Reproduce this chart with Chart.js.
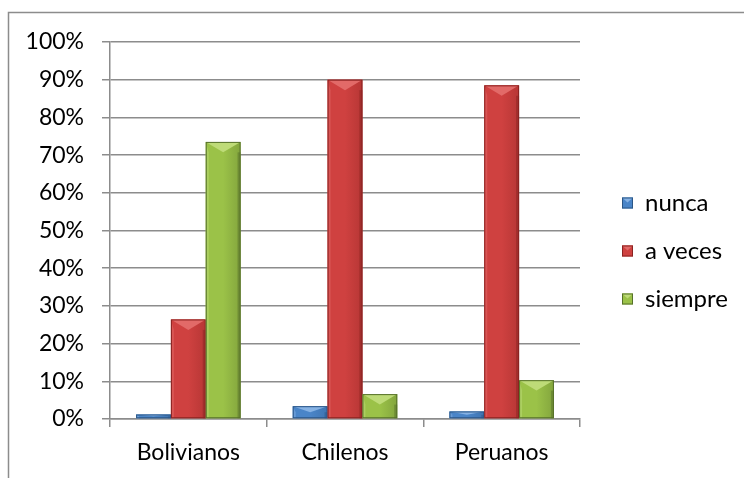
<!DOCTYPE html>
<html>
<head>
<meta charset="utf-8">
<script src="https://cdn.jsdelivr.net/npm/chart.js@4/dist/chart.umd.min.js"></script>
<style>
  html, body { margin: 0; padding: 0; background: #fff; }
  #wrap { width: 744px; height: 478px; position: relative; }
</style>
</head>
<body>
<div id="wrap"><canvas id="chart"></canvas></div>
<script>
const categories = ['Bolivianos', 'Chilenos', 'Peruanos']
const nunca = [1.2, 3.4, 2.0]
const aVeces = [26.4, 90.0, 88.5]
const siempre = [73.5, 6.6, 10.3]

// body, highlight, dark edge
const palette = [
    ['#4a85c8', '#86b2e4', '#2b5686'],
    ['#cf4140', '#e26a68', '#8a2321'],
    ['#9bc248', '#bedb78', '#56702a']
]

const FONT = 'Lato, "Open Sans", sans-serif'

const frame = {
    id: 'frame',
    beforeDraw(chart) {
        const ctx = chart.ctx
        ctx.save()
        ctx.fillStyle = '#fff'
        ctx.fillRect(0, 0, chart.width, chart.height)
        ctx.strokeStyle = '#8c8c8c'
        ctx.lineWidth = 1.5
        ctx.strokeRect(8.5, 12.5, chart.width + 10, chart.height + 10)
        ctx.restore()
    }
}

// bevel look on top of each bar
const bevel = {
    id: 'bevel',
    afterDatasetsDraw(chart) {
        const ctx = chart.ctx
        chart.data.datasets.forEach((ds, di) => {
            const meta = chart.getDatasetMeta(di)
            const col = palette[di]
            meta.data.forEach(bar => {
                const l = bar.x - bar.width / 2
                const r = bar.x + bar.width / 2
                const t = bar.y
                const b = bar.base
                const h = b - t
                const d = Math.min(bar.width * 0.3, h / 2)
                ctx.save()
                const g = ctx.createLinearGradient(l, 0, r, 0)
                g.addColorStop(0, col[0])
                g.addColorStop(0.5, col[0])
                g.addColorStop(1, col[2])
                ctx.globalAlpha = 0.35
                ctx.fillStyle = g
                ctx.fillRect(l, t, r - l, h)
                ctx.globalAlpha = 1
                ctx.fillStyle = col[1]
                ctx.beginPath()
                ctx.moveTo(l, t)
                ctx.lineTo(r, t)
                ctx.lineTo(bar.x, t + d)
                ctx.closePath()
                ctx.fill()
                ctx.globalAlpha = 0.5
                ctx.beginPath()
                ctx.moveTo(l, t)
                ctx.lineTo(l + 3, t + d)
                ctx.lineTo(l + 3, b)
                ctx.lineTo(l, b)
                ctx.closePath()
                ctx.fill()
                ctx.globalAlpha = 1
                ctx.fillStyle = col[2]
                ctx.globalAlpha = 0.5
                ctx.fillRect(r - 3, t + d, 3, h - d)
                ctx.globalAlpha = 1
                ctx.strokeStyle = col[2]
                ctx.lineWidth = 1
                ctx.strokeRect(l + 0.5, t + 0.5, r - l - 1, h - 1)
                ctx.restore()
            })
        })
    }
}

const sideLegend = {
    id: 'sideLegend',
    afterDraw(chart) {
        const ctx = chart.ctx
        const x = chart.chartArea.right + 42
        const yMid = (chart.chartArea.top + chart.chartArea.bottom) / 2 + 20
        ctx.save()
        ctx.font = '24px ' + FONT
        ctx.textBaseline = 'middle'
        chart.data.datasets.forEach((ds, i) => {
            const y = yMid + (i - 1) * 48
            const col = palette[i]
            ctx.fillStyle = col[0]
            ctx.fillRect(x, y - 5, 11, 11)
            ctx.fillStyle = col[1]
            ctx.beginPath()
            ctx.moveTo(x, y - 5)
            ctx.lineTo(x + 11, y - 5)
            ctx.lineTo(x + 5.5, y)
            ctx.closePath()
            ctx.fill()
            ctx.strokeStyle = col[2]
            ctx.strokeRect(x + 0.5, y - 4.5, 10, 10)
            ctx.fillStyle = '#000'
            ctx.fillText(ds.label, x + 23, y + 1)
        })
        ctx.restore()
    }
}

new Chart(document.getElementById('chart'), {
    type: 'bar',
    data: {
        labels: categories,
        datasets: [
            { label: 'nunca', data: nunca, backgroundColor: palette[0][0] },
            { label: 'a veces', data: aVeces, backgroundColor: palette[1][0] },
            { label: 'siempre', data: siempre, backgroundColor: palette[2][0] }
        ]
    },
    options: {
        responsive: true,
        maintainAspectRatio: false,
        animation: false,
        layout: { padding: { left: 0, right: 164, top: 42, bottom: 0 } },
        datasets: { bar: { categoryPercentage: 0.667, barPercentage: 1 } },
        plugins: { legend: { display: false }, tooltip: { enabled: false } },
        scales: {
            x: {
                grid: { offset: true, drawOnChartArea: false, color: '#8c8c8c', tickLength: 8, lineWidth: 1.5 },
                border: { color: '#8c8c8c', width: 1.5 },
                ticks: { color: '#000', font: { family: FONT, size: 23 }, padding: 12 },
                afterFit(scale) { scale.height = 59 }
            },
            y: {
                min: 0,
                max: 100,
                ticks: {
                    stepSize: 10,
                    color: '#000',
                    padding: 18,
                    font: { family: FONT, size: 23 },
                    callback: v => v + '%'
                },
                grid: { color: '#8c8c8c', lineWidth: 1.5, tickLength: 8 },
                border: { color: '#8c8c8c', width: 1.5 },
                afterFit(scale) { scale.width = 110 }
            }
        }
    },
    plugins: [frame, bevel, sideLegend]
})
</script>
</body>
</html>
